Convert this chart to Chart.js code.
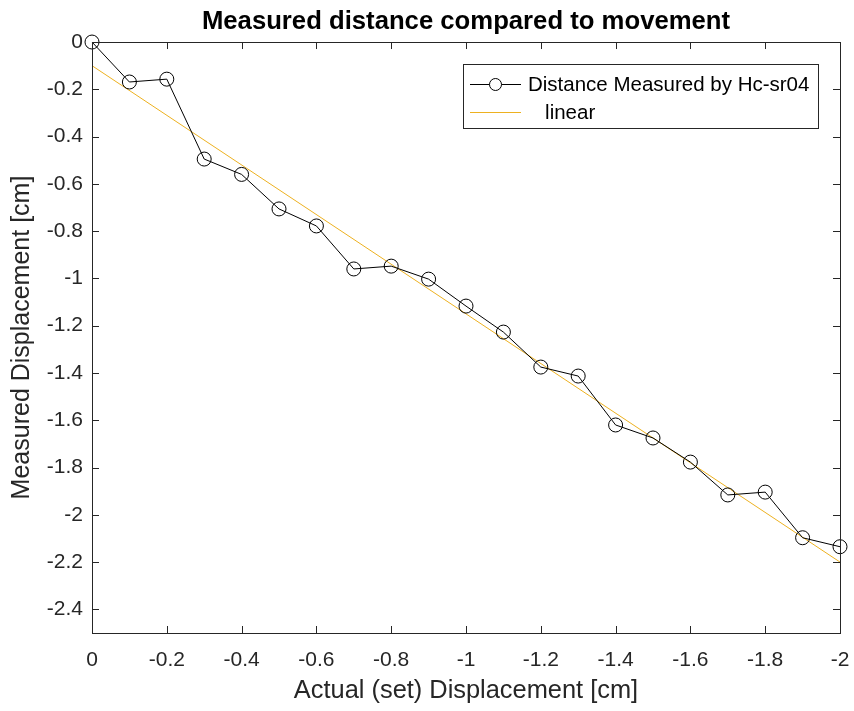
<!DOCTYPE html>
<html><head><meta charset="utf-8">
<script src="https://cdn.jsdelivr.net/npm/chart.js@4/dist/chart.umd.min.js"></script>
<style>html,body{margin:0;padding:0;background:#fff}#wrap{width:854px;height:711px}</style>
</head><body><div id="wrap"><canvas id="c" width="854" height="711"></canvas></div>
<script>
const actualX = [0,-0.1,-0.2,-0.3,-0.4,-0.5,-0.6,-0.7,-0.8,-0.9,-1.0,-1.1,-1.2,-1.3,-1.4,-1.5,-1.6,-1.7,-1.8,-1.9,-2.0];
const measuredY = [0,-0.169,-0.157,-0.495,-0.56,-0.706,-0.778,-0.96,-0.948,-1.003,-1.117,-1.227,-1.375,-1.413,-1.62,-1.675,-1.777,-1.916,-1.904,-2.097,-2.135];
const linearX = [0,-2];
const linearY = [-0.1,-2.2];
const xTicks = [0,-0.2,-0.4,-0.6,-0.8,-1,-1.2,-1.4,-1.6,-1.8,-2];
const yTicks = [0,-0.2,-0.4,-0.6,-0.8,-1,-1.2,-1.4,-1.6,-1.8,-2,-2.2,-2.4];
const seriesNames = ['Distance Measured by Hc-sr04','   linear'];

const AX = '#262626';
const FONT = "'Liberation Sans', Arial, Helvetica, sans-serif";
const fmt = v => String(Math.round(v*10)/10);

const titleCenterPlugin = {
  id:'titleCenter',
  afterLayout(chart){
    if(chart.titleBlock){
      chart.titleBlock.left = chart.chartArea.left;
      chart.titleBlock.right = chart.chartArea.right;
    }
  }
};

const boxPlugin = {
  id:'box',
  afterDraw(chart){
    const ctx = chart.ctx, a = chart.chartArea;
    const xs = chart.scales.x, ys = chart.scales.y;
    ctx.save();
    ctx.strokeStyle = AX; ctx.lineWidth = 1;
    ctx.strokeRect(Math.round(a.left)+0.5, Math.round(a.top)+0.5, Math.round(a.right-a.left), Math.round(a.bottom-a.top));
    const L = 7;
    ctx.beginPath();
    xTicks.forEach(v=>{
      const p = Math.round(xs.getPixelForValue(v))+0.5;
      ctx.moveTo(p,a.bottom); ctx.lineTo(p,a.bottom-L);
      ctx.moveTo(p,a.top); ctx.lineTo(p,a.top+L);
    });
    yTicks.forEach(v=>{
      const p = Math.round(ys.getPixelForValue(v))+0.5;
      ctx.moveTo(a.left,p); ctx.lineTo(a.left+L,p);
      ctx.moveTo(a.right,p); ctx.lineTo(a.right-L,p);
    });
    ctx.stroke();
    ctx.restore();
  }
};

const legendPlugin = {
  id:'boxLegend',
  afterDraw(chart){
    const ctx = chart.ctx;
    const ds = chart.data.datasets;
    ctx.save();
    const bx=463.5, by=64.5, bw=355, bh=64;
    ctx.fillStyle='#fff'; ctx.fillRect(bx,by,bw,bh);
    ctx.strokeStyle=AX; ctx.lineWidth=1; ctx.strokeRect(bx,by,bw,bh);
    ctx.font = "20.5px " + FONT;
    ctx.textBaseline='middle';
    const rows=[84,112];
    ds.forEach((d,i)=>{
      const y=rows[i];
      ctx.strokeStyle=d.borderColor; ctx.lineWidth=1;
      ctx.beginPath(); ctx.moveTo(470,y+0.5); ctx.lineTo(521,y+0.5); ctx.stroke();
      if(d.pointRadius>0){
        ctx.beginPath(); ctx.arc(495.5,y+0.5,6,0,Math.PI*2);
        ctx.fillStyle='#fff'; ctx.fill(); ctx.strokeStyle=d.pointBorderColor; ctx.stroke();
      }
      ctx.fillStyle='#000';
      ctx.fillText(d.label,528,y+1);
    });
    ctx.restore();
  }
};

new Chart(document.getElementById('c'),{
  type:'scatter',
  data:{datasets:[
    {label:seriesNames[0], data:actualX.map((x,i)=>({x,y:measuredY[i]})), showLine:true,
     borderColor:'#000', borderWidth:1, pointRadius:7, pointHoverRadius:7,
     pointBorderColor:'#000', pointBackgroundColor:'rgba(0,0,0,0)', pointBorderWidth:1, clip:false, order:1},
    {label:seriesNames[1], data:linearX.map((x,i)=>({x,y:linearY[i]})), showLine:true,
     borderColor:'#EDB120', borderWidth:1, pointRadius:0, pointHoverRadius:0, order:2}
  ]},
  options:{
    responsive:false, animation:false, devicePixelRatio:1,
    layout:{padding:{top:0,right:14,left:0,bottom:0}},
    plugins:{
      legend:{display:false}, tooltip:{enabled:false},
      title:{display:true, text:'Measured distance compared to movement', color:'#000',
        font:{family:FONT, size:25.7, weight:'bold', lineHeight:1.2}, padding:{top:6.6,bottom:4.6}}
    },
    scales:{
      x:{type:'linear', reverse:true, min:-2, max:0,
        afterBuildTicks:s=>{s.ticks = xTicks.map(v=>({value:v}));},
        afterFit:s=>{s.height=78; s.paddingLeft=0; s.paddingRight=0;},
        grid:{display:false, drawTicks:false}, border:{display:false},
        ticks:{color:AX, padding:14.4, maxRotation:0, autoSkip:false, callback:v=>fmt(v), font:{family:FONT,size:21}},
        title:{display:true, text:'Actual (set) Displacement [cm]', color:AX, font:{family:FONT,size:25.4,lineHeight:1.2}, padding:{top:0,bottom:5}}
      },
      y:{type:'linear', min:-2.5, max:0,
        afterBuildTicks:s=>{s.ticks = yTicks.map(v=>({value:v}));},
        afterFit:s=>{s.width=92; s.paddingTop=0; s.paddingBottom=0;},
        grid:{display:false, drawTicks:false}, border:{display:false},
        ticks:{color:AX, padding:9, autoSkip:false, callback:v=>fmt(v), font:{family:FONT,size:21}},
        title:{display:true, text:'Measured Displacement [cm]', color:AX, font:{family:FONT,size:25,lineHeight:1.2}, padding:{top:7,bottom:0}}
      }
    }
  },
  plugins:[titleCenterPlugin, boxPlugin, legendPlugin]
});
</script></body></html>
